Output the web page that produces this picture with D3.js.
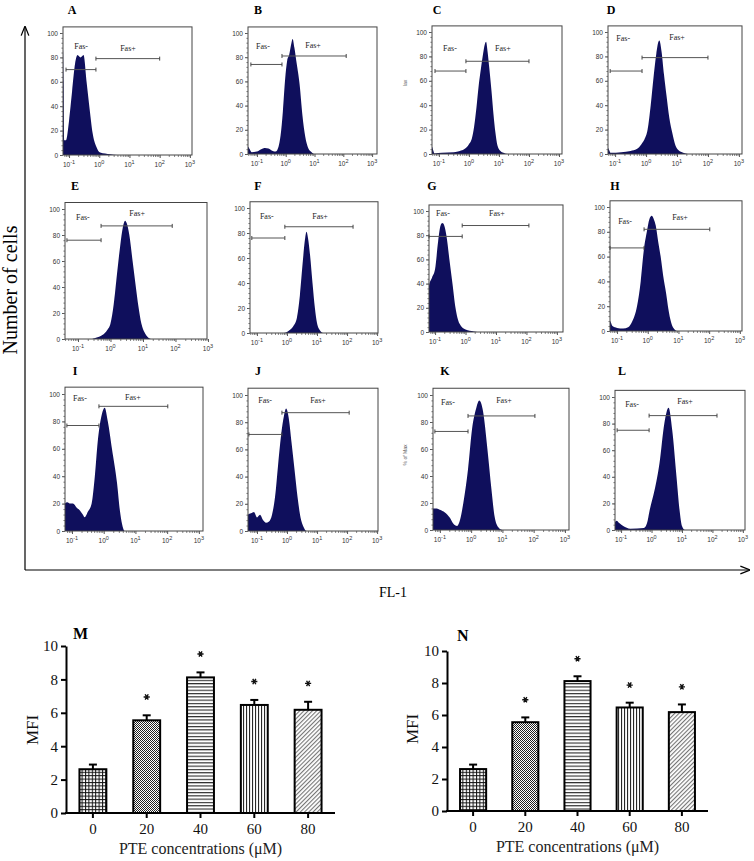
<!DOCTYPE html>
<html><head><meta charset="utf-8">
<script src="https://cdnjs.cloudflare.com/ajax/libs/d3/7.8.5/d3.min.js"></script>
<style>body{margin:0;background:#fff}svg{display:block}</style>
</head><body>
<svg id="c" width="754" height="861"></svg>
<script>
// ---------------- DATA ----------------
const panelIds = ["A","B","C","D","E","F","G","H","I","J","K","L"];
// histograms: [log10(FL-1), % of max]
const histA = [[-1.3,0],[-1.21,0],[-1.2,86],[-1.18,60],[-1.16,12],[-1.1,12],[-1.0,28],[-0.9,52],[-0.8,75],[-0.72,82],[-0.62,80],[-0.52,82],[-0.42,60],[-0.32,38],[-0.22,18],[-0.1,7],[0.03,2],[0.36,0.6],[0.6,0],[3.2,0]];
const histB = [[-1.35,0],[-1.31,6],[-1.25,4],[-1.18,1.5],[-1.0,2],[-0.85,4],[-0.72,5],[-0.6,4.5],[-0.45,2.5],[-0.35,2],[-0.25,6],[-0.18,15],[-0.1,35],[-0.02,62],[0.05,77],[0.12,82],[0.2,92],[0.24,95],[0.3,88],[0.38,75],[0.48,58],[0.58,32],[0.68,14],[0.78,5],[0.9,1.5],[1.0,0],[3.2,0]];
const histC = [[-1.3,0],[-1.23,6],[-1.19,3],[-1.15,0.5],[-0.9,1],[-0.5,1.5],[-0.3,2.5],[-0.15,4],[0,8],[0.1,13],[0.17,22],[0.25,38],[0.32,55],[0.4,70],[0.47,82],[0.53,90],[0.57,92],[0.62,84],[0.68,70],[0.75,52],[0.82,32],[0.88,18],[0.95,7],[1.05,2.5],[1.15,1],[1.3,0],[3.2,0]];
const histD = [[-1.3,0],[-1.23,5],[-1.19,3],[-1.15,1],[-0.8,1.5],[-0.5,2.5],[-0.3,4],[-0.15,8],[-0.05,12],[0.05,20],[0.15,40],[0.25,65],[0.33,82],[0.4,92],[0.43,93],[0.5,84],[0.58,65],[0.66,48],[0.75,30],[0.85,17],[0.95,7],[1.05,3],[1.2,1],[1.35,0],[3.2,0]];
const histE = [[-1.5,0],[-0.6,0],[-0.45,1],[-0.25,3],[-0.1,7],[0,12],[0.1,27],[0.2,50],[0.3,72],[0.38,86],[0.45,91],[0.5,89],[0.58,80],[0.68,60],[0.78,40],[0.86,25],[0.95,12],[1.05,5],[1.13,2],[1.28,0],[3.2,0]];
const histF = [[-1.3,0],[-0.1,0],[0.07,2],[0.2,5],[0.33,12],[0.43,30],[0.53,58],[0.6,75],[0.65,81],[0.7,76],[0.77,62],[0.85,40],[0.93,20],[1.0,8],[1.1,2],[1.2,0],[3.2,0]];
const histG = [[-1.3,0],[-1.21,0],[-1.2,38],[-1.1,45],[-1.0,52],[-0.9,75],[-0.82,88],[-0.76,90],[-0.7,88],[-0.63,80],[-0.53,60],[-0.43,40],[-0.33,20],[-0.2,7],[0,2],[0.27,0.5],[0.5,0],[3.3,0]];
const histH = [[-1.3,0],[-1.23,8],[-1.15,4],[-1.0,2.5],[-0.8,2],[-0.64,3],[-0.5,8],[-0.35,20],[-0.23,40],[-0.13,65],[-0.03,80],[0.05,90],[0.13,93],[0.2,90],[0.26,85],[0.34,72],[0.42,60],[0.5,45],[0.6,30],[0.67,18],[0.73,10],[0.8,4],[0.85,2],[0.95,0],[3.2,0]];
const histI = [[-1.3,0],[-1.22,20],[-1.15,21],[-1.05,20],[-0.97,20],[-0.85,17],[-0.75,15],[-0.66,12],[-0.6,10],[-0.5,14],[-0.38,20],[-0.28,40],[-0.19,65],[-0.06,85],[0.03,90],[0.13,80],[0.26,60],[0.42,35],[0.51,15],[0.58,5],[0.66,0],[3.2,0]];
const histJ = [[-1.35,0],[-1.3,12],[-1.2,13],[-1.1,14],[-1.0,10],[-0.9,12],[-0.8,8],[-0.7,6],[-0.6,7],[-0.5,12],[-0.4,25],[-0.3,48],[-0.2,70],[-0.1,85],[-0.03,90],[0.05,84],[0.15,65],[0.25,45],[0.35,25],[0.45,10],[0.55,3],[0.65,0],[3.2,0]];
const histK = [[-1.3,0],[-1.22,16],[-1.1,16],[-1.0,15],[-0.84,13],[-0.68,9],[-0.58,5],[-0.45,3],[-0.35,8],[-0.25,20],[-0.1,45],[0.03,75],[0.16,90],[0.26,96],[0.38,88],[0.52,60],[0.65,30],[0.75,10],[0.87,2],[1.0,0],[3.2,0]];
const histL = [[-1.3,0],[-1.2,6],[-1.15,7],[-1.05,5],[-0.93,3],[-0.7,1],[-0.25,1.5],[-0.15,5],[-0.06,15],[0.1,30],[0.26,50],[0.42,80],[0.56,92],[0.68,75],[0.82,40],[0.92,15],[1.0,3],[1.1,0],[3.2,0]];
const hists = [histA,histB,histC,histD,histE,histF,histG,histH,histI,histJ,histK,histL];
// gates: [fasMinusStart, gateSplit, fasMinusY, fasPlusEnd, fasPlusY]
const gates = [
  [-1.1,-0.11,70,2.0,79],[-1.21,-0.13,74,2.1,81],[-1.13,-0.1,68,2.0,76],[-1.16,-0.13,68,2.0,79],
  [-1.34,-0.29,76,1.9,87],[-1.17,-0.07,76,2.2,85],[-1.2,-0.11,79,2.08,88],[-1.23,-0.12,67,2.02,82],
  [-1.16,-0.15,77,2.02,91],[-1.27,-0.17,71,2.07,87],[-1.16,-0.1,73,2.04,84.5],[-1.13,-0.08,75,2.15,86]
];
// gate labels: [FasMinusX, FasMinusY, FasPlusX, FasPlusY]
const gateLabels = [
  [-0.6,89,0.95,88],[-0.79,89,0.95,90],[-0.63,87,1.13,87],[-0.74,95,1.0,96],
  [-0.85,94,0.82,97],[-0.67,94,1.1,94],[-0.74,98,1.03,98],[-0.74,89,1.05,92],
  [-0.75,97,0.92,98],[-0.73,96,1.03,96],[-0.74,95,1.05,96],[-0.64,95,1.1,97]
];
const yTickValues = [0,20,40,60,80,100];
const xDecades = [-1,0,1,2,3];

// bar charts M and N
const concentrations = ["0","20","40","60","80"];
const mfiMean = [2.62, 5.55, 8.12, 6.47, 6.18];
const mfiErr  = [0.28, 0.3, 0.3, 0.3, 0.48];
const significant = [false, true, true, true, true];
const mfiTicks = [0,2,4,6,8,10];

// ---------------- LAYOUT / STYLE ----------------
const layout = [
 {x0:63, x1:192, y100:33, y0:155, lo:-1.2, hi:3.07, lx:72, ly:14},
 {x0:248,x1:377, y100:33, y0:154, lo:-1.31,hi:3.17, lx:258,ly:14},
 {x0:432,x1:562, y100:32, y0:154, lo:-1.23,hi:3.1, lx:437,ly:14},
 {x0:608,x1:742, y100:32, y0:154, lo:-1.23,hi:3.1, lx:611,ly:14},
 {x0:65, x1:207, y100:209,y0:339, lo:-1.4, hi:2.97, lx:75, ly:190},
 {x0:250,x1:378, y100:208,y0:333, lo:-1.23,hi:3.03, lx:258,ly:190},
 {x0:429,x1:563, y100:211,y0:332, lo:-1.2, hi:3.2, lx:432,ly:190},
 {x0:610,x1:742, y100:207,y0:331, lo:-1.23,hi:3.07, lx:615,ly:190},
 {x0:65, x1:203, y100:394,y0:531, lo:-1.22,hi:3.13, lx:75, ly:375},
 {x0:248,x1:378, y100:395,y0:531, lo:-1.3, hi:3.03, lx:258,ly:375},
 {x0:433,x1:569, y100:395,y0:530, lo:-1.22,hi:3.13, lx:445,ly:375},
 {x0:615,x1:745, y100:397,y0:530, lo:-1.2, hi:3.07, lx:622,ly:375}
];
const navy = "#0f0f5c";
const serif = "'Liberation Serif','Times New Roman',serif";
const sans = "'Liberation Sans',Arial,sans-serif";

const svg = d3.select("#c");
const defs = svg.append("defs");

// arrow marker
defs.append("marker").attr("id","arr").attr("viewBox","0 0 10 10").attr("refX",9).attr("refY",5)
  .attr("markerWidth",8).attr("markerHeight",8).attr("orient","auto-start-reverse")
  .append("path").attr("d","M0,1 L10,5 L0,9").attr("fill","none").attr("stroke","#000").attr("stroke-width",1.3);

// big axes
svg.append("path").attr("d","M25,570 L25,27").attr("stroke","#000").attr("stroke-width",1.2).attr("fill","none").attr("marker-end","url(#arr)");
svg.append("path").attr("d","M25,570 L749,570").attr("stroke","#000").attr("stroke-width",1.2).attr("fill","none").attr("marker-end","url(#arr)");
svg.append("text").attr("transform","translate(17,290) rotate(-90)").attr("text-anchor","middle")
  .attr("font-family",serif).attr("font-size",20).attr("fill","#000").text("Number of cells");
svg.append("text").attr("x",393).attr("y",597).attr("text-anchor","middle")
  .attr("font-family",serif).attr("font-size",14).attr("fill","#000").text("FL-1");

// histogram panels
layout.forEach((L,i)=>{
  const g = svg.append("g");
  const x = d3.scaleLinear().domain([L.lo,L.hi]).range([L.x0,L.x1]);
  const y = d3.scaleLinear().domain([0,100]).range([L.y0,L.y100]);
  const top = y(105);
  const cid = "clip"+i;
  defs.append("clipPath").attr("id",cid).append("rect")
    .attr("x",L.x0).attr("y",top).attr("width",L.x1-L.x0).attr("height",L.y0-top);
  const area = d3.area().x(d=>x(d[0])).y0(y(0)).y1(d=>y(d[1])).curve(d3.curveMonotoneX);
  g.append("path").datum(hists[i]).attr("d",area).attr("fill",navy).attr("clip-path",`url(#${cid})`);
  // box
  g.append("rect").attr("x",L.x0).attr("y",top).attr("width",L.x1-L.x0).attr("height",L.y0-top)
    .attr("fill","none").attr("stroke","#444").attr("stroke-width",1);
  // y axis
  const ya = g.append("g").attr("transform",`translate(${L.x0},0)`)
    .call(d3.axisLeft(y).tickValues(yTickValues).tickSize(3).tickPadding(2).tickSizeOuter(0));
  ya.select(".domain").remove();
  ya.selectAll("line").attr("stroke","#555");
  ya.selectAll("text").attr("font-size",6.5).attr("font-family",sans).attr("fill","#333");
  const ym = g.append("g").attr("transform",`translate(${L.x0},0)`)
    .call(d3.axisLeft(y).tickValues(d3.range(0,101,4)).tickSize(1.5).tickFormat("").tickSizeOuter(0));
  ym.select(".domain").remove(); ym.selectAll("line").attr("stroke","#666");
  // x axis
  const minor = [];
  for (let k=-2;k<=3;k++) for (let m=2;m<=9;m++){const v=k+Math.log10(m); if(v>L.lo&&v<L.hi) minor.push(v);}
  const xm = g.append("g").attr("transform",`translate(0,${L.y0})`)
    .call(d3.axisBottom(x).tickValues(minor).tickSize(1.8).tickFormat("").tickSizeOuter(0));
  xm.select(".domain").remove(); xm.selectAll("line").attr("stroke","#666");
  const xa = g.append("g").attr("transform",`translate(0,${L.y0})`)
    .call(d3.axisBottom(x).tickValues(xDecades).tickSize(3).tickFormat("").tickSizeOuter(0));
  xa.select(".domain").remove(); xa.selectAll("line").attr("stroke","#555");
  xDecades.forEach(d=>{
    const t = g.append("text").attr("x",x(d)).attr("y",L.y0+12).attr("text-anchor","middle")
      .attr("font-family",sans).attr("font-size",6.5).attr("fill","#333");
    t.append("tspan").text("10");
    t.append("tspan").attr("dy",-3).attr("font-size",5.5).text(String(d));
  });
  // gates
  const gt = gates[i];
  const gateLine = (a,b,v)=>{
    const yy = y(v);
    g.append("line").attr("x1",x(a)).attr("x2",x(b)).attr("y1",yy).attr("y2",yy).attr("stroke","#555").attr("stroke-width",1);
    [a,b].forEach(e=>g.append("line").attr("x1",x(e)).attr("x2",x(e)).attr("y1",yy-2).attr("y2",yy+2).attr("stroke","#444").attr("stroke-width",1));
  };
  gateLine(gt[0],gt[1],gt[2]);
  gateLine(gt[1],gt[3],gt[4]);
  const gl = gateLabels[i];
  g.append("text").attr("x",x(gl[0])).attr("y",y(gl[1])+3).attr("text-anchor","middle")
    .attr("font-family",serif).attr("font-size",8).attr("fill","#222").text("Fas-");
  g.append("text").attr("x",x(gl[2])).attr("y",y(gl[3])+3).attr("text-anchor","middle")
    .attr("font-family",serif).attr("font-size",8).attr("fill","#222").text("Fas+");
  // panel letter
  svg.append("text").attr("x",L.lx).attr("y",L.ly).attr("text-anchor","middle")
    .attr("font-family",serif).attr("font-weight","bold").attr("font-size",12).attr("fill","#000").text(panelIds[i]);
});
// faint y-axis titles
svg.append("text").attr("transform","translate(407,83) rotate(-90)").attr("text-anchor","middle")
  .attr("font-family",sans).attr("font-size",5).attr("fill","#666").text("lax");
svg.append("text").attr("transform","translate(407,455) rotate(-90)").attr("text-anchor","middle")
  .attr("font-family",sans).attr("font-size",5).attr("fill","#555").text("% of Max");

// ---------------- PATTERNS ----------------
function pat(id,w,h,draw,transform){
  const p = defs.append("pattern").attr("id",id).attr("patternUnits","userSpaceOnUse").attr("width",w).attr("height",h);
  if(transform) p.attr("patternTransform",transform);
  p.append("rect").attr("width",w).attr("height",h).attr("fill","#fff");
  draw(p);
}
pat("pGrid",3.4,3.4,p=>{
  p.append("line").attr("x1",0).attr("x2",3.4).attr("y1",0.5).attr("y2",0.5).attr("stroke","#111").attr("stroke-width",1);
  p.append("line").attr("y1",0).attr("y2",3.4).attr("x1",0.5).attr("x2",0.5).attr("stroke","#111").attr("stroke-width",1);
});
pat("pCheck",2,2,p=>{
  p.append("rect").attr("x",0).attr("y",0).attr("width",1).attr("height",1).attr("fill","#222");
  p.append("rect").attr("x",1).attr("y",1).attr("width",1).attr("height",1).attr("fill","#222");
});
pat("pH",4,3.3,p=>{
  p.append("line").attr("x1",0).attr("x2",4).attr("y1",0.6).attr("y2",0.6).attr("stroke","#111").attr("stroke-width",1);
});
pat("pV",3,4,p=>{
  p.append("line").attr("y1",0).attr("y2",4).attr("x1",0.6).attr("x2",0.6).attr("stroke","#111").attr("stroke-width",1);
});
pat("pD",3,3,p=>{
  p.append("line").attr("y1",0).attr("y2",3).attr("x1",0.6).attr("x2",0.6).attr("stroke","#555").attr("stroke-width",0.9);
},"rotate(45)");
const barPatterns = ["pGrid","pCheck","pH","pV","pD"];

// ---------------- BAR CHARTS ----------------
const star = d3.symbol().type(d3.symbolAsterisk).size(26);
function barChart(o){
  const g = svg.append("g");
  const x = d3.scaleBand().domain(concentrations).range([o.x0,o.x1]).paddingInner(0.5).paddingOuter(0.25);
  const y = d3.scaleLinear().domain([0,10]).range([o.yb,o.yt]);
  concentrations.forEach((c,i)=>{
    g.append("rect").attr("x",x(c)).attr("y",y(mfiMean[i])).attr("width",x.bandwidth())
      .attr("height",y(0)-y(mfiMean[i])).attr("fill",`url(#${barPatterns[i]})`)
      .attr("stroke","#000").attr("stroke-width",2);
    const cx = x(c)+x.bandwidth()/2;
    g.append("line").attr("x1",cx).attr("x2",cx).attr("y1",y(mfiMean[i])).attr("y2",y(mfiMean[i]+mfiErr[i])).attr("stroke","#000").attr("stroke-width",2);
    g.append("line").attr("x1",cx-4).attr("x2",cx+4).attr("y1",y(mfiMean[i]+mfiErr[i])).attr("y2",y(mfiMean[i]+mfiErr[i])).attr("stroke","#000").attr("stroke-width",2);
    if(significant[i]) g.append("path").attr("d",star())
      .attr("transform",`translate(${cx},${y(mfiMean[i]+mfiErr[i]+1.1)}) rotate(90)`)
      .attr("fill","none").attr("stroke","#111").attr("stroke-width",1.4);
  });
  const ya = g.append("g").attr("transform",`translate(${o.x0},0)`)
    .call(d3.axisLeft(y).tickValues(mfiTicks).tickSize(5).tickPadding(3).tickSizeOuter(0));
  const xa = g.append("g").attr("transform",`translate(0,${o.yb})`)
    .call(d3.axisBottom(x).tickSize(5).tickPadding(5).tickSizeOuter(0));
  [ya,xa].forEach(a=>{
    a.select(".domain").attr("stroke-width",2).attr("stroke","#000");
    a.selectAll("line").attr("stroke-width",2).attr("stroke","#000");
    a.selectAll("text").attr("font-family",serif).attr("font-size",15).attr("fill","#111");
  });
  xa.select(".domain").attr("d",`M${o.x0-1},0H${o.x1}`);
  svg.append("text").attr("x",o.lx).attr("y",o.ly).attr("font-family",serif).attr("font-weight","bold").attr("font-size",16).attr("fill","#000").text(o.letter);
  svg.append("text").attr("transform",`translate(${o.mx},${o.my}) rotate(-90)`).attr("text-anchor","middle")
    .attr("font-family",serif).attr("font-size",17).attr("fill","#111").text("MFI");
  svg.append("text").attr("x",(o.x0+o.x1)/2).attr("y",o.ty).attr("text-anchor","middle")
    .attr("font-family",serif).attr("font-size",16).attr("fill","#222").text("PTE concentrations (\u03bcM)");
}
barChart({x0:66,x1:335,yt:646,yb:813,letter:"M",lx:73,ly:639,mx:38,my:730,ty:854});
barChart({x0:447,x1:708,yt:651,yb:811,letter:"N",lx:457,ly:641,mx:418,my:729,ty:852});
</script>
</body></html>
